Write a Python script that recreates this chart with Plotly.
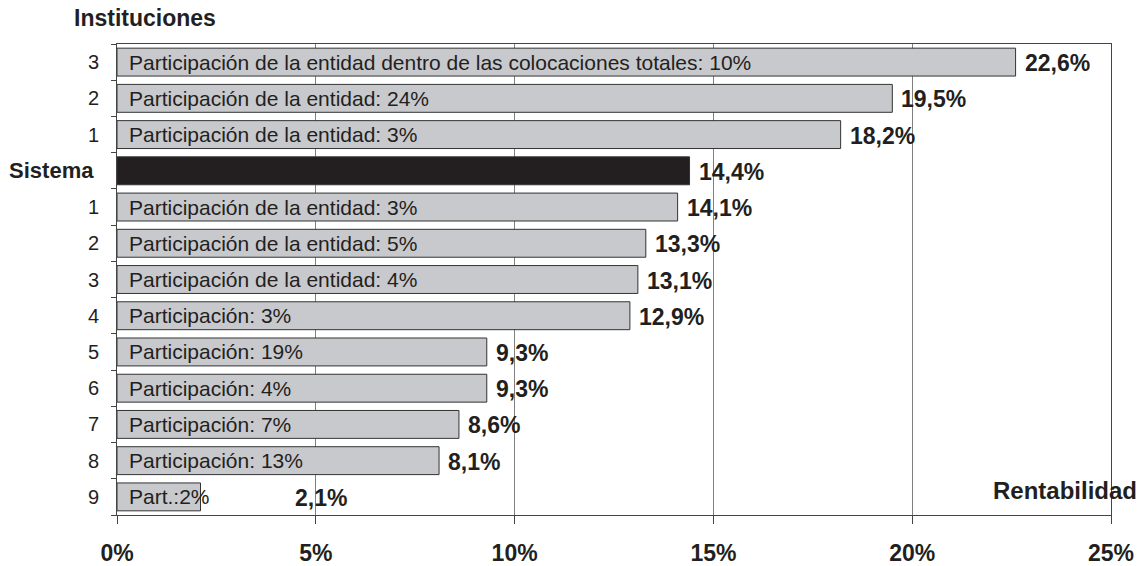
import plotly.graph_objects as go

# ---- data ----
row_labels = ["3", "2", "1", "Sistema", "1", "2", "3", "4", "5", "6", "7", "8", "9"]
rentabilidad = [22.6, 19.5, 18.2, 14.4, 14.1, 13.3, 13.1, 12.9, 9.3, 9.3, 8.6, 8.1, 2.1]
value_text = ["22,6%", "19,5%", "18,2%", "14,4%", "14,1%", "13,3%", "13,1%", "12,9%",
              "9,3%", "9,3%", "8,6%", "8,1%", "2,1%"]
bar_text = [
    "Participación de la entidad dentro de las colocaciones totales: 10%",
    "Participación de la entidad: 24%",
    "Participación de la entidad: 3%",
    "",
    "Participación de la entidad: 3%",
    "Participación de la entidad: 5%",
    "Participación de la entidad: 4%",
    "Participación: 3%",
    "Participación: 19%",
    "Participación: 4%",
    "Participación: 7%",
    "Participación: 13%",
    "Part.:2%",
]
x_ticks = [0, 5, 10, 15, 20, 25]
x_tick_labels = ["0%", "5%", "10%", "15%", "20%", "25%"]

# ---- style ----
FONT = "Liberation Sans, Arial, sans-serif"
TXT = "#231F20"
GRAY_BAR = "#C8C9CD"
rows = list(range(len(row_labels)))
colors = ["#231F20" if lab == "Sistema" else GRAY_BAR for lab in row_labels]
tick_text = ["<span style='font-size:22px'><b>Sistema</b></span>&nbsp;" if lab == "Sistema" else lab
             for lab in row_labels]
value_xshift = [7] * (len(rows) - 1) + [92]

fig = go.Figure()
fig.add_trace(go.Bar(
    x=rentabilidad, y=rows, orientation="h",
    marker=dict(color=colors, line=dict(color="#333333", width=1)),
    width=0.77, hoverinfo="skip",
))

annotations = []
for r, t in zip(rows, bar_text):
    if t:
        annotations.append(dict(x=0, y=r, xref="x", yref="y", text=t, showarrow=False,
                                xanchor="left", yanchor="middle", xshift=10,
                                font=dict(family=FONT, size=21, color=TXT)))
for r, v, t, sh in zip(rows, rentabilidad, value_text, value_xshift):
    annotations.append(dict(x=v, y=r, xref="x", yref="y", text="<b>" + t + "</b>",
                            showarrow=False, xanchor="left", yanchor="middle", xshift=sh, yshift=-1,
                            font=dict(family=FONT, size=23, color=TXT)))
annotations.append(dict(x=0.0, y=1.0, xref="paper", yref="paper", text="<b>Instituciones</b>",
                        showarrow=False, xanchor="left", yanchor="bottom", xshift=-45, yshift=11,
                        font=dict(family=FONT, size=23, color=TXT)))
annotations.append(dict(x=1.0, y=0.0, xref="paper", yref="paper", text="<b>Rentabilidad</b>",
                        showarrow=False, xanchor="right", yanchor="bottom", xshift=28, yshift=9,
                        font=dict(family=FONT, size=24, color=TXT)))

fig.update_layout(
    width=1145, height=566,
    margin=dict(l=117, r=34, t=44, b=51, autoexpand=False),
    paper_bgcolor="white", plot_bgcolor="white",
    showlegend=False,
    annotations=annotations,
    font=dict(family=FONT, color=TXT),
    xaxis=dict(range=[0, 25], tickvals=x_ticks, ticktext=["<b>%s</b>" % s for s in x_tick_labels],
               ticks="outside", ticklen=8, tickcolor="#444", tickwidth=1,
               ticklabelstandoff=9, automargin=False,
               tickfont=dict(family=FONT, size=23, color=TXT),
               showgrid=True, gridcolor="#808080", gridwidth=1,
               showline=True, linecolor="#444444", linewidth=1, mirror=True,
               zeroline=False, fixedrange=True),
    yaxis=dict(range=[12.5, -0.5], tickvals=rows, ticktext=tick_text,
               ticks="", ticklabelstandoff=13, automargin=False,
               tickfont=dict(family=FONT, size=20, color=TXT),
               minor=dict(tick0=0.5, dtick=1, ticks="outside", ticklen=5,
                          tickcolor="#444", tickwidth=1, showgrid=False),
               showgrid=False, showline=True, linecolor="#444444", linewidth=1, mirror=True,
               zeroline=False, fixedrange=True),
)

fig.write_html("out.html", config={"displayModeBar": False, "staticPlot": True},
               post_script="document.body.style.margin='0';document.body.style.overflow='hidden';")
